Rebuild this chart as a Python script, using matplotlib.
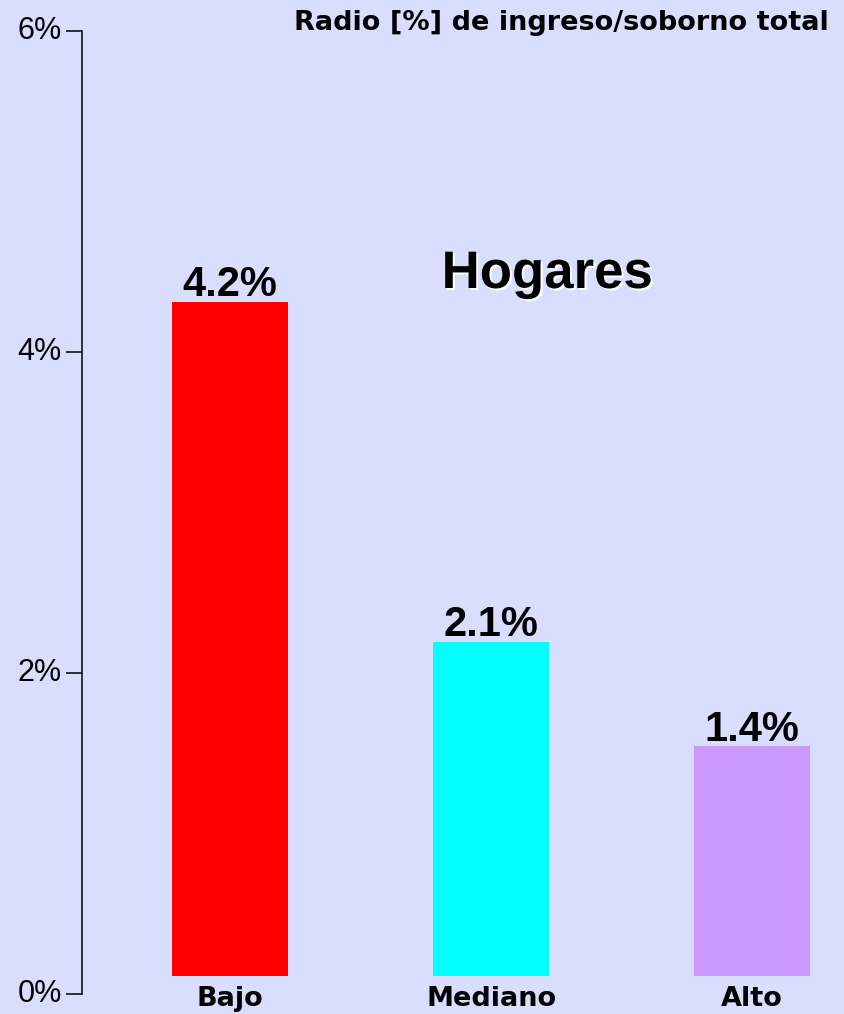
"""
Radio de ingreso/soborno total - Hogares
"""
import numpy as np
import matplotlib.pyplot as plt
import matplotlib.patheffects as pe
from matplotlib.transforms import ScaledTranslation

# données
categories = ['Bajo', 'Mediano', 'Alto']
valeurs = [4.2, 2.08, 1.43]
couleurs = ['#FF0000', '#00FFFF', '#CC99FF']
yticks = [0, 2, 4, 6]
ytick_labels = ['0%', '2%', '4%', '6%']

fond = '#D9DEFF'
base_barres = 0.114  # les barres flottent un peu au-dessus de 0

plt.rcParams['font.family'] = ['Liberation Sans', 'DejaVu Sans']

fig = plt.figure(figsize=(8.44, 10.14), dpi=100, facecolor=fond)
ax = fig.add_axes([82 / 844, 20 / 1014, 1 - 82 / 844, 963 / 1014])
ax.set_facecolor(fond)

x = np.arange(len(categories))
ax.bar(x, valeurs, width=0.444, bottom=base_barres, color=couleurs)

# étiquettes de valeur au-dessus des barres
for xi, v in zip(x, valeurs):
    ax.annotate(f'{v:.1f}%', (xi, base_barres + v), xytext=(0, 4),
                textcoords='offset points', ha='center', va='baseline',
                fontsize=30, fontweight='bold')

ax.set_xlim(-0.567, 2.352)
ax.set_ylim(0, 6)

ax.set_xticks(x, categories, fontsize=19.5, fontweight='bold',
              family='DejaVu Sans')
ax.tick_params(axis='x', length=0, pad=-6)
ax.set_yticks(yticks, ytick_labels, fontsize=22)
ax.tick_params(axis='y', length=11.5, width=1.1, pad=3)
decal = ScaledTranslation(0, 2.5 / 72, fig.dpi_scale_trans)
for lbl in ax.get_yticklabels():
    lbl.set_transform(lbl.get_transform() + decal)

for s in ['top', 'right', 'bottom']:
    ax.spines[s].set_visible(False)
ax.spines['left'].set_linewidth(1.1)

# titres
fig.text(829 / 844, 1 - 30 / 1014, 'Radio [%] de ingreso/soborno total',
         ha='right', va='baseline', fontsize=19.5, fontweight='bold',
         family='DejaVu Sans')
fig.text(547 / 844, 1 - 288 / 1014, 'Hogares', ha='center', va='baseline',
         fontsize=38, fontweight='bold',
         path_effects=[pe.SimplePatchShadow(offset=(1.5, -1.5),
                                            shadow_rgbFace='white', alpha=1),
                       pe.Normal()])

fig.savefig('out.png', dpi=100, facecolor=fond)
